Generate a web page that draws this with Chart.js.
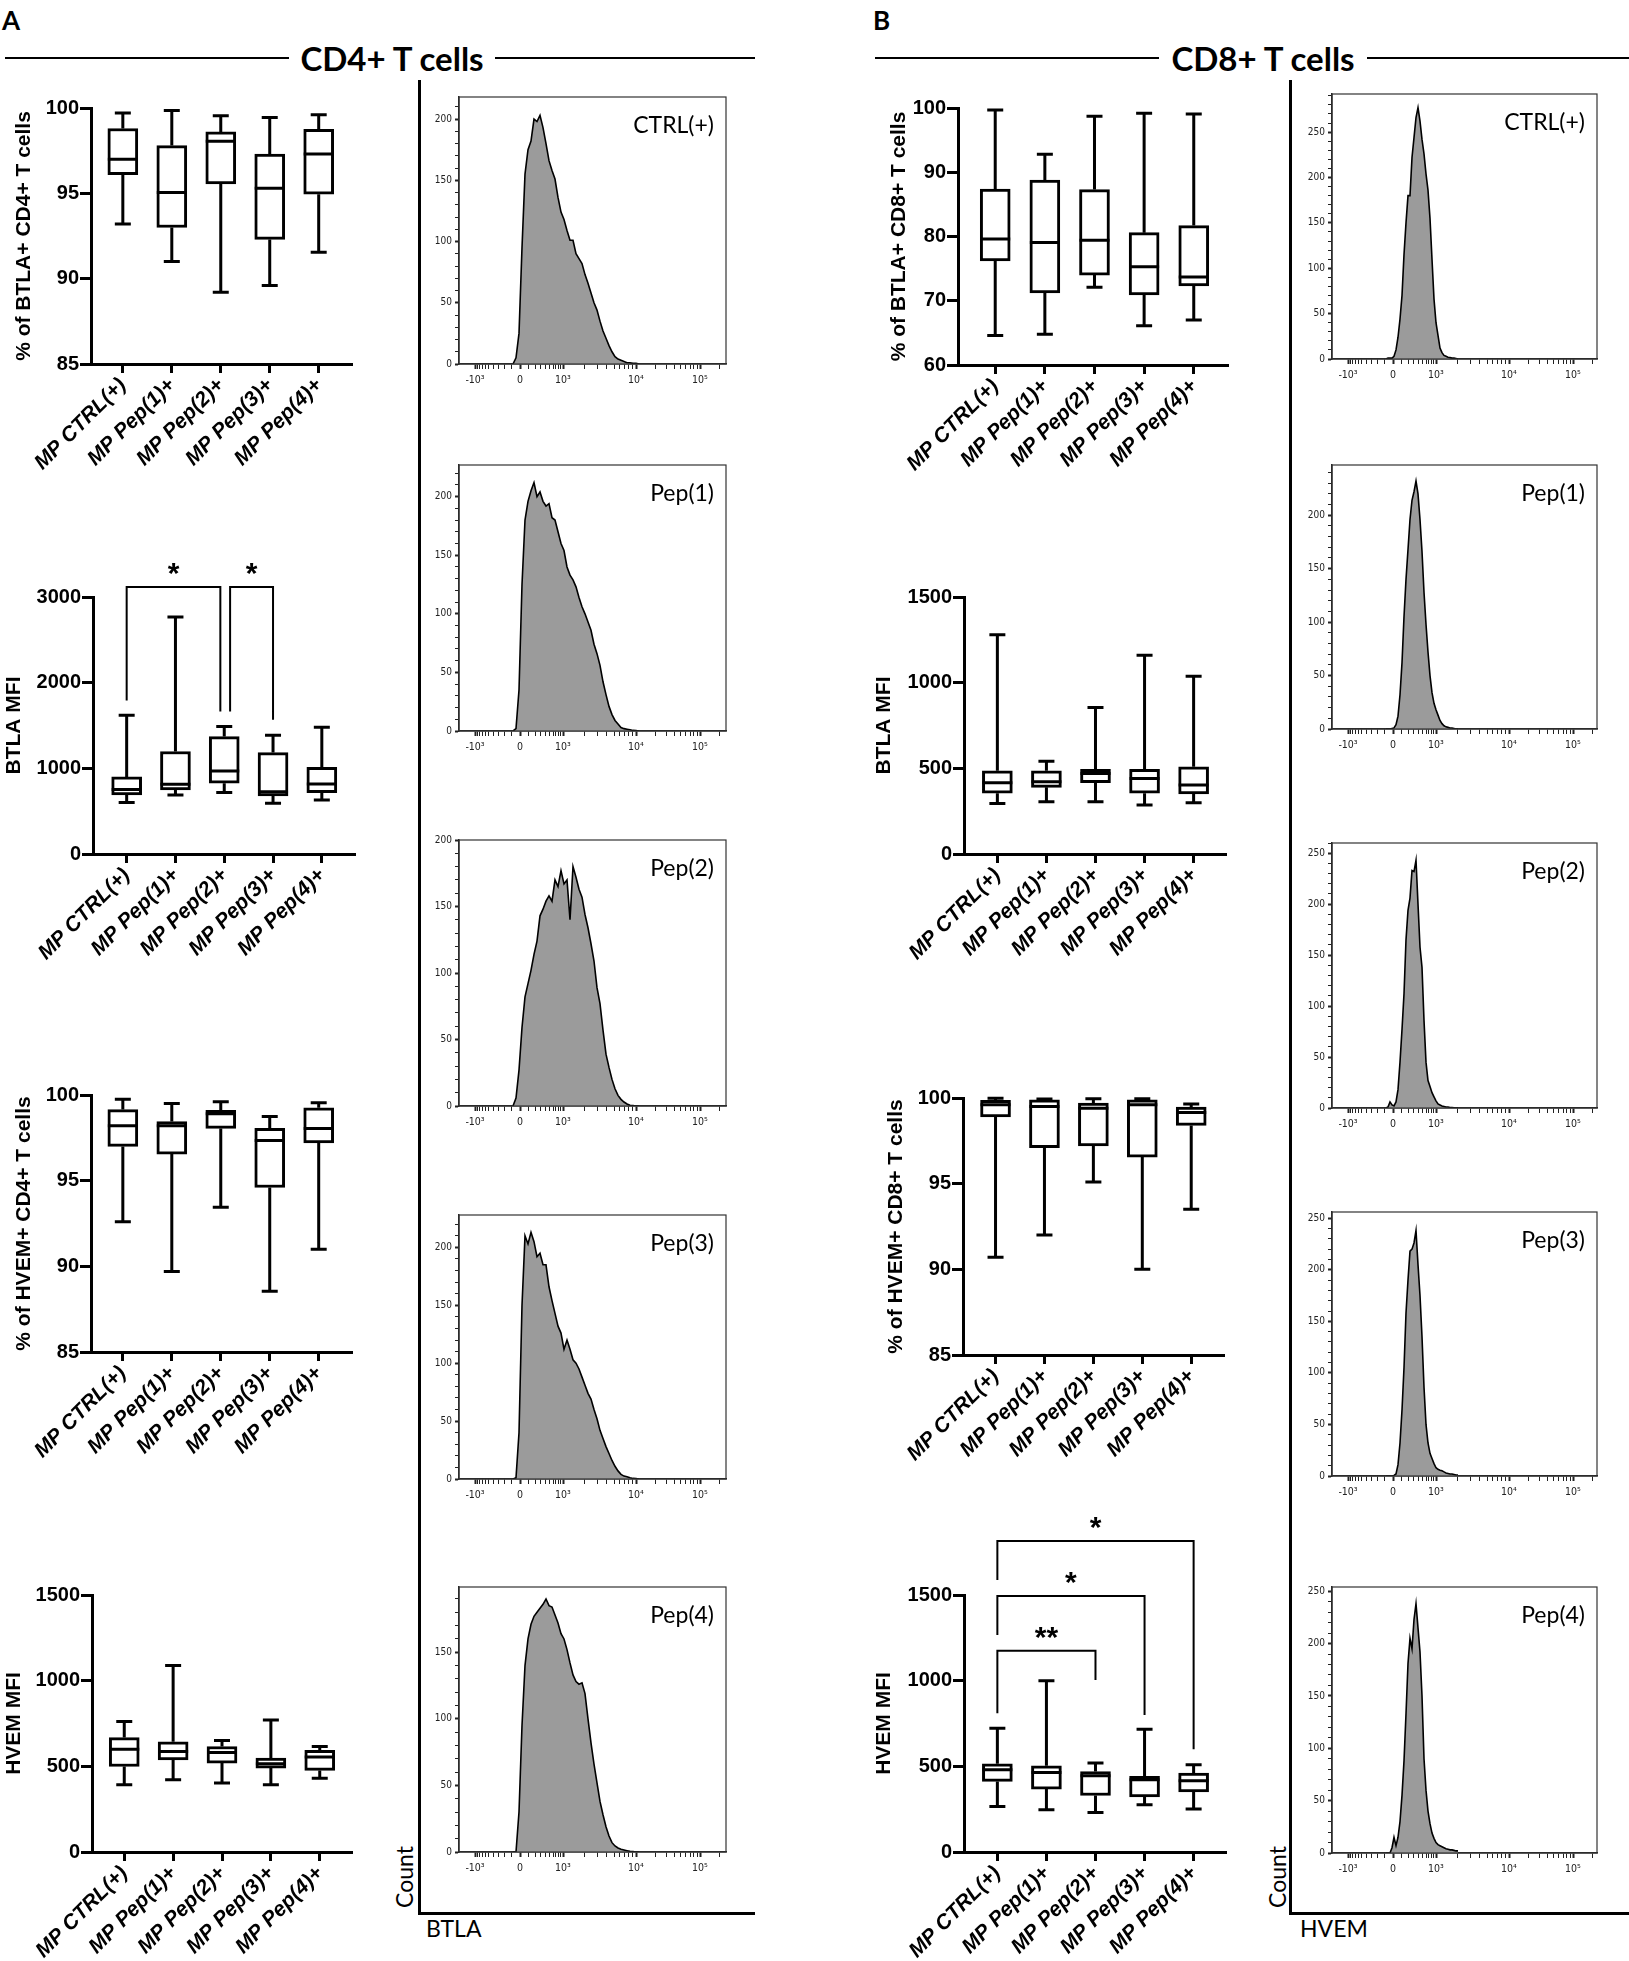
<!DOCTYPE html>
<html>
<head>
<meta charset="utf-8">
<title>BTLA and HVEM on CD4+ and CD8+ T cells</title>
<script src="https://cdn.jsdelivr.net/npm/chart.js@4.4.1/dist/chart.umd.min.js"></script>
<style>
  html, body { margin: 0; padding: 0; background: #fff; }
  #page { position: relative; width: 1629px; height: 1961px; overflow: hidden; background: #fff; color: #000; font-family: Lato, "Open Sans", sans-serif; }
  #page canvas { position: absolute; }
  .txt { position: absolute; white-space: nowrap; line-height: 1; }
  .rule { position: absolute; background: #000; }
</style>
</head>
<body>
<div id="page"></div>
<script>
// ---- data ----
const groups = ["MP CTRL(+)", "MP Pep(1)+", "MP Pep(2)+", "MP Pep(3)+", "MP Pep(4)+"];

// box plots, one row per group: [min, q1, median, q3, max]
const cd4BtlaPct = [[93.2, 96.1, 97.0, 98.8, 99.7], [91.0, 93.0, 95.05, 97.8, 99.85], [89.2, 95.55, 98.05, 98.6, 99.55], [89.6, 92.3, 95.3, 97.3, 99.45], [91.55, 94.95, 97.3, 98.75, 99.6]];
const cd4BtlaMfi = [[600, 690, 754, 900, 1620], [690, 748, 814, 1196, 2766], [717, 826, 970, 1371, 1488], [592, 678, 728, 1184, 1387], [631, 717, 818, 1013, 1480]];
const cd4HvemPct = [[92.6, 97.0, 98.2, 99.15, 99.75], [89.7, 96.55, 98.2, 98.45, 99.5], [93.45, 98.05, 98.9, 99.1, 99.6], [88.55, 94.6, 97.35, 98.05, 98.75], [91.0, 97.2, 98.05, 99.25, 99.55]];
const cd4HvemMfi = [[392, 499, 600, 668, 762], [422, 538, 587, 643, 1088], [402, 519, 581, 616, 651], [392, 490, 515, 548, 771], [431, 476, 554, 593, 616]];
const cd8BtlaPct = [[64.6, 76.2, 79.6, 87.4, 99.7], [64.8, 71.2, 79.05, 88.8, 92.8], [72.1, 74.0, 79.4, 87.3, 98.7], [66.1, 70.9, 75.3, 80.6, 99.2], [67.0, 72.3, 73.7, 81.7, 99.05]];
const cd8BtlaMfi = [[295, 355, 416, 486, 1280], [305, 389, 422, 486, 542], [305, 416, 470, 494, 855], [286, 355, 441, 494, 1160], [299, 351, 402, 509, 1038]];
const cd8HvemPct = [[90.7, 98.9, 99.6, 99.86, 99.98], [92.0, 97.1, 99.5, 99.9, 99.94], [95.1, 97.2, 99.4, 99.7, 99.96], [90.0, 96.55, 99.6, 99.9, 99.96], [93.5, 98.4, 99.15, 99.47, 99.65]];
const cd8HvemMfi = [[266, 412, 480, 515, 723], [247, 367, 464, 503, 999], [231, 330, 445, 470, 519], [276, 321, 422, 441, 717], [251, 350, 416, 460, 509]];

// significance brackets: [from x, to x, bar value, left leg end, right leg end, label]
const cd4BtlaMfiSig = [[1, 2.92, 3117, 1792, 1664, "*"], [3.12, 4, 3117, 1664, 1566, "*"]];
const cd8HvemMfiSig = [[1, 3, 1175, 810, 1004, "**"], [1, 4, 1494, 1267, 800, "*"], [1, 5, 1815, 1587, 600, "*"]];

// histograms: display channel (biexponential axis) and event counts
const cd4Channels = [54, 57, 60, 63, 66, 69, 72, 75, 78, 81, 84, 87, 90, 93, 96, 99, 102, 105, 108, 111, 114, 117, 120, 123, 126, 129, 132, 135, 138, 141, 144, 147, 150, 153, 156, 159, 162, 165, 168, 171, 174, 177, 180];
const cd4CtrlCounts = [0, 5, 25, 95, 155, 175, 182, 200, 198, 203, 193, 180, 166, 158, 151, 136, 124, 118, 109, 101, 101, 90, 86, 82, 73, 66, 58, 50, 44, 35, 27, 21, 15, 10, 6, 4, 3, 2, 1, 1, 0.5, 0.5, 0];
const cd4Pep1Counts = [0, 2, 35, 125, 180, 196, 205, 212, 200, 204, 196, 192, 194, 182, 180, 170, 160, 154, 140, 133, 129, 123, 114, 106, 100, 93, 86, 74, 66, 56, 42, 31, 21, 14, 9, 6, 3, 2, 1.5, 1, 0.5, 0.3, 0];
const cd4Pep2Counts = [0, 6, 27, 59, 82, 92, 102, 114, 124, 143, 148, 154, 158, 154, 170, 165, 177, 167, 170, 140, 180, 172, 163, 157, 144, 134, 122, 109, 89, 77, 57, 39, 29, 20, 13, 8, 5, 3, 1.5, 0.5, 0.3, 0, 0];
const cd4Pep3Counts = [0, 1, 40, 150, 210, 203, 213, 205, 192, 195, 185, 185, 166, 154, 143, 132, 126, 112, 120, 112, 103, 100, 95, 88, 81, 74, 69, 60, 52, 42, 35, 28, 22, 16, 11, 7, 4, 2.5, 2, 1, 0.5, 0.3, 0];
const cd4Pep4Counts = [0, 0, 30, 95, 140, 160, 171, 177, 180, 183, 186, 190, 185, 184, 178, 172, 164, 160, 152, 142, 133, 128, 126, 127, 119, 100, 82, 66, 52, 38, 28, 19, 12, 7, 4.5, 3, 2, 1.5, 1, 0.5, 0.3, 0, 0];

const cd8Channels = [54, 56, 58, 60, 62, 64, 66, 68, 70, 72, 74, 76, 78, 80, 82, 84, 86, 88, 90, 92, 94, 96, 98, 100, 102, 104, 106, 108, 110, 112, 114, 116, 118, 120, 122, 124, 126];
const cd8CtrlCounts = [0, 1, 1, 1, 3, 10, 24, 44, 70, 115, 150, 180, 180, 222, 244, 266, 277, 262, 242, 226, 204, 186, 155, 110, 66, 40, 26, 12, 7, 4, 3, 2, 1.5, 1, 1, 0.5, 0];
const cd8Pep1Counts = [0, 0, 0, 0.5, 1, 4, 12, 32, 62, 105, 140, 168, 196, 214, 222, 232, 220, 196, 166, 128, 98, 72, 50, 34, 24, 18, 13, 8, 5, 3, 2, 1.5, 1, 1, 0.5, 0, 0];
const cd8Pep2Counts = [0, 1, 6, 3, 2, 6, 18, 45, 77, 112, 165, 194, 206, 233, 232, 243, 200, 158, 138, 86, 45, 27, 21, 15, 11, 7, 4, 3, 2, 1.5, 1, 1, 0.5, 0.5, 0.3, 0, 0];
const cd8Pep3Counts = [0, 0, 0, 0, 0.5, 2, 11, 32, 64, 105, 158, 190, 218, 220, 226, 238, 205, 175, 135, 86, 50, 32, 22, 17, 12, 8, 6.5, 5.5, 5, 4, 3, 2.5, 2, 2, 1.5, 1, 1];
const cd8Pep4Counts = [0, 0, 0, 5, 15, 7, 15, 30, 55, 88, 133, 181, 205, 195, 223, 238, 215, 192, 150, 90, 60, 40, 28, 19, 14, 10, 8, 7, 6, 5, 4, 3.5, 3, 3, 2.5, 2, 2];

const histNames = ["CTRL(+)", "Pep(1)", "Pep(2)", "Pep(3)", "Pep(4)"];
const histTickValues = [-1000, 0, 1000, 10000, 100000];
const histTickLabels = ["-10\u00B3", "0", "10\u00B3", "10\u2074", "10\u2075"];
const histMinorValues = [-900, -800, -700, -600, -500, -400, -300, -200, -100, 100, 200, 300, 400, 500, 600, 700, 800, 900,
  2000, 3000, 4000, 5000, 6000, 7000, 8000, 9000, 20000, 30000, 40000, 50000, 60000, 70000, 80000, 90000, 200000];

// ---- page helpers ----
const ARIAL = '"Liberation Sans", Arial, sans-serif';
const NARROW = '"Liberation Sans Narrow", "DejaVu Sans Condensed", "Arial Narrow", "Liberation Sans", sans-serif';
const page = document.getElementById('page');
Chart.defaults.font.family = ARIAL;

function canvasAt(x, y, w, h) {
  const c = document.createElement('canvas');
  c.width = w; c.height = h;
  c.style.left = x + 'px'; c.style.top = y + 'px';
  c.style.width = w + 'px'; c.style.height = h + 'px';
  page.appendChild(c);
  return c;
}
function rule(x, y, w, h) {
  const d = document.createElement('div');
  d.className = 'rule';
  Object.assign(d.style, { left: x + 'px', top: y + 'px', width: w + 'px', height: h + 'px' });
  page.appendChild(d);
}
function label(str, x, y, css, transform) {
  const d = document.createElement('div');
  d.className = 'txt';
  d.textContent = str;
  Object.assign(d.style, css, { left: x + 'px', top: y + 'px', transform: transform || 'none' });
  page.appendChild(d);
}

// whiskers, caps and median lines on top of the q1..q3 bars
const whiskerPlugin = rows => ({
  id: 'whiskers',
  afterDatasetsDraw(chart) {
    const { ctx, scales: { x, y } } = chart;
    ctx.save();
    ctx.strokeStyle = '#000';
    ctx.lineWidth = 3;
    rows.forEach((r, i) => {
      const cx = x.getPixelForValue(i + 1);
      const [mn, q1, md, q3, mx] = r.map(v => y.getPixelForValue(v));
      ctx.beginPath();
      ctx.moveTo(cx, q3); ctx.lineTo(cx, mx);
      ctx.moveTo(cx, q1); ctx.lineTo(cx, mn);
      ctx.moveTo(cx - 8, mx); ctx.lineTo(cx + 8, mx);
      ctx.moveTo(cx - 8, mn); ctx.lineTo(cx + 8, mn);
      ctx.moveTo(cx - 15, md); ctx.lineTo(cx + 15, md);
      ctx.stroke();
    });
    ctx.restore();
  }
});

const sigPlugin = sig => ({
  id: 'sig',
  afterDraw(chart) {
    const { ctx, scales: { x, y } } = chart;
    ctx.save();
    ctx.strokeStyle = '#000';
    ctx.fillStyle = '#000';
    ctx.lineWidth = 2;
    ctx.font = 'bold 30px ' + ARIAL;
    ctx.textAlign = 'center';
    ctx.textBaseline = 'alphabetic';
    sig.forEach(([a, b, bar, la, lb, txt]) => {
      const xa = x.getPixelForValue(a), xb = x.getPixelForValue(b), yb = y.getPixelForValue(bar);
      ctx.beginPath();
      ctx.moveTo(xa, y.getPixelForValue(la));
      ctx.lineTo(xa, yb);
      ctx.lineTo(xb, yb);
      ctx.lineTo(xb, y.getPixelForValue(lb));
      ctx.stroke();
      ctx.fillText(txt, (xa + xb) / 2, yb - 4);
    });
    ctx.restore();
  }
});

function boxChart(rows, lay, sig) {
  const W = 380, T = lay.top - 100, B = Math.min(lay.bottom + 135, 1961), H = B - T;
  const cv = canvasAt(lay.cx, T, W, H);
  return new Chart(cv, {
    type: 'bar',
    data: {
      datasets: [{
        data: rows.map((r, i) => ({ x: i + 1, y: [r[1], r[3]] })),
        backgroundColor: '#fff', borderColor: '#000', borderWidth: 3,
        borderSkipped: false, barThickness: 30
      }]
    },
    options: {
      responsive: false, animation: false, events: [],
      layout: { padding: { left: 0, top: lay.top - T, right: lay.cx + W - lay.ex, bottom: 0 } },
      plugins: { legend: { display: false }, tooltip: { enabled: false } },
      scales: {
        x: {
          type: 'linear', min: lay.xmin, max: lay.xmax, offset: false,
          afterBuildTicks: s => { s.ticks = groups.map((g, i) => ({ value: i + 1 })); },
          afterFit: s => { s.height = B - lay.bottom; },
          ticks: {
            callback: v => groups[v - 1], autoSkip: false, minRotation: 45, maxRotation: 45,
            padding: 0, color: '#000', font: { family: ARIAL, size: 21, weight: 'bold', style: 'italic' }
          },
          grid: { offset: false, drawOnChartArea: false, drawTicks: true, tickLength: 9, tickWidth: 3, tickColor: '#000' },
          border: { display: true, color: '#000', width: 3 }
        },
        y: {
          min: lay.ymin, max: lay.ymax,
          afterFit: s => { s.width = lay.ax - lay.cx; },
          ticks: { stepSize: lay.step, padding: 1, color: '#000', callback: v => String(v), font: { family: ARIAL, size: 20, weight: 'bold' } },
          title: { display: true, text: lay.title, color: '#000', font: { family: ARIAL, size: 21, weight: 'bold' }, padding: { top: lay.tp, bottom: 0 } },
          grid: { drawOnChartArea: false, drawTicks: true, tickLength: 11, tickWidth: 3, tickColor: '#000' },
          border: { display: true, color: '#000', width: 3 }
        }
      }
    },
    plugins: [whiskerPlugin(rows), sigPlugin(sig || [])]
  });
}

// biexponential-like position of a fluorescence value on the histogram x axis (axis decoration only)
function histChannel(v) {
  if (Math.abs(v) <= 1000) {
    const s = Math.asinh(Math.abs(v) / 250) / Math.asinh(4);
    return v >= 0 ? 61 + 43 * s : 61 - 45 * s;
  }
  if (v <= 10000) return 104 + 73 * Math.log10(v / 1000);
  return 177 + 64 * Math.log10(v / 10000);
}
const histXTicks = histTickValues.map((v, i) => ({ value: histChannel(v), big: true, text: histTickLabels[i] }))
  .concat(histMinorValues.map(v => ({ value: histChannel(v), big: false, text: '' })))
  .sort((a, b) => a.value - b.value);

const framePlugin = {
  id: 'frame',
  afterDraw(chart) {
    const { ctx, chartArea: a } = chart;
    ctx.save();
    ctx.strokeStyle = '#333';
    ctx.lineWidth = 1.2;
    ctx.strokeRect(a.left, a.top, a.right - a.left, a.bottom - a.top);
    ctx.restore();
  }
};

function histChart(channels, counts, box, ymax, name) {
  const pl = 46, pt = 12, pr = 12, pb = 40;
  const cv = canvasAt(box.x - pl, box.top - pt, box.w + pl + pr, box.bottom - box.top + pt + pb);
  new Chart(cv, {
    type: 'line',
    data: {
      datasets: [{
        data: channels.map((c, i) => ({ x: c, y: counts[i] })),
        fill: 'origin', backgroundColor: '#9b9b9b', borderColor: '#000', borderWidth: 1.6,
        pointRadius: 0, tension: 0
      }]
    },
    options: {
      responsive: false, animation: false, events: [],
      layout: { padding: { left: 0, top: pt, right: pr, bottom: 0 } },
      plugins: { legend: { display: false }, tooltip: { enabled: false } },
      scales: {
        x: {
          type: 'linear', min: 0, max: box.w,
          afterBuildTicks: s => { s.ticks = histXTicks.map(t => ({ value: t.value, big: t.big, text: t.text })); },
          afterFit: s => { s.height = pb; },
          ticks: {
            autoSkip: false, minRotation: 0, maxRotation: 0, padding: 5, color: '#222',
            callback: (v, i, ts) => ts[i].text, font: { family: NARROW, size: 10.5 }
          },
          grid: { drawOnChartArea: false, tickLength: 5, tickWidth: c => (c.tick && c.tick.big ? 2 : 1), tickColor: '#222' },
          border: { color: '#222', width: 1.5 }
        },
        y: {
          min: 0, max: ymax,
          afterBuildTicks: s => {
            const t = [];
            for (let v = 0; v <= ymax; v += 10) t.push({ value: v, big: v % 50 === 0 });
            s.ticks = t;
          },
          afterFit: s => { s.width = pl; },
          ticks: { autoSkip: false, padding: 3, color: '#222', callback: v => (v % 50 === 0 ? String(v) : ''), font: { family: NARROW, size: 10 } },
          grid: { drawOnChartArea: false, tickLength: 4, tickWidth: c => (c.tick && c.tick.big ? 2 : 1), tickColor: '#222' },
          border: { color: '#222', width: 1.5 }
        }
      }
    },
    plugins: [framePlugin]
  });
  label(name, box.x + box.w - 12, box.top + 13, { font: '23px Lato, "Open Sans", sans-serif' }, 'translateX(-100%)');
}

// ---- headers and frame lines ----
const headFont = { font: 'bold 26px Lato, "Open Sans", sans-serif' };
const titleFont = { font: 'bold 33px Lato, "Open Sans", sans-serif' };
label('A', 2, 4, headFont);
label('B', 873, 4, headFont);
rule(5, 57, 284, 2); rule(495, 57, 260, 2);
label('CD4+ T cells', 392, 58, titleFont, 'translate(-50%, -50%)');
rule(875, 57, 284, 2); rule(1367, 57, 262, 2);
label('CD8+ T cells', 1263, 58, titleFont, 'translate(-50%, -50%)');

rule(418, 80, 3, 1835); rule(418, 1912, 337, 3);
rule(1289, 80, 3, 1835); rule(1289, 1912, 340, 3);
const axFont = { font: '23px Lato, "Open Sans", sans-serif' };
label('Count', 404, 1877, axFont, 'translate(-50%, -50%) rotate(-90deg)');
label('BTLA', 426, 1928, axFont, 'translateY(-50%)');
label('Count', 1277, 1877, axFont, 'translate(-50%, -50%) rotate(-90deg)');
label('HVEM', 1300, 1928, axFont, 'translateY(-50%)');

// ---- box plots ----
boxChart(cd4BtlaPct, { cx: 0, ax: 91, ex: 352, top: 108, bottom: 364, xmin: 0.35, xmax: 5.68, ymin: 85, ymax: 100, step: 5, title: '% of BTLA+ CD4+ T cells', tp: 12 });
boxChart(cd4BtlaMfi, { cx: 0, ax: 93, ex: 355, top: 597, bottom: 854, xmin: 0.31, xmax: 5.68, ymin: 0, ymax: 3000, step: 1000, title: 'BTLA MFI', tp: 2 }, cd4BtlaMfiSig);
boxChart(cd4HvemPct, { cx: 0, ax: 91, ex: 352, top: 1095, bottom: 1352, xmin: 0.35, xmax: 5.68, ymin: 85, ymax: 100, step: 5, title: '% of HVEM+ CD4+ T cells', tp: 12 });
boxChart(cd4HvemMfi, { cx: 0, ax: 92, ex: 352, top: 1595, bottom: 1852, xmin: 0.34, xmax: 5.66, ymin: 0, ymax: 1500, step: 500, title: 'HVEM MFI', tp: 2 });
boxChart(cd8BtlaPct, { cx: 870, ax: 958, ex: 1228, top: 108, bottom: 365, xmin: 0.25, xmax: 5.69, ymin: 60, ymax: 100, step: 10, title: '% of BTLA+ CD8+ T cells', tp: 17 });
boxChart(cd8BtlaMfi, { cx: 870, ax: 964, ex: 1226, top: 597, bottom: 854, xmin: 0.32, xmax: 5.66, ymin: 0, ymax: 1500, step: 500, title: 'BTLA MFI', tp: 2 });
boxChart(cd8HvemPct, { cx: 870, ax: 963, ex: 1224, top: 1098, bottom: 1355, xmin: 0.335, xmax: 5.67, ymin: 85, ymax: 100, step: 5, title: '% of HVEM+ CD8+ T cells', tp: 14 });
boxChart(cd8HvemMfi, { cx: 870, ax: 964, ex: 1226, top: 1595, bottom: 1852, xmin: 0.32, xmax: 5.66, ymin: 0, ymax: 1500, step: 500, title: 'HVEM MFI', tp: 2 }, cd8HvemMfiSig);

// ---- histograms ----
const cd4Counts = [cd4CtrlCounts, cd4Pep1Counts, cd4Pep2Counts, cd4Pep3Counts, cd4Pep4Counts];
const cd4Tops = [97, 465, 840, 1215, 1587], cd4Bottoms = [364, 731, 1106, 1479, 1852], cd4Max = [218, 227, 200, 228, 199];
cd4Counts.forEach((c, i) => histChart(cd4Channels, c, { x: 459, w: 267, top: cd4Tops[i], bottom: cd4Bottoms[i] }, cd4Max[i], histNames[i]));

const cd8Counts = [cd8CtrlCounts, cd8Pep1Counts, cd8Pep2Counts, cd8Pep3Counts, cd8Pep4Counts];
const cd8Tops = [94, 465, 843, 1212, 1587], cd8Bottoms = [359, 729, 1108, 1476, 1853], cd8Max = [292, 247, 260, 256, 254];
cd8Counts.forEach((c, i) => histChart(cd8Channels, c, { x: 1332, w: 265, top: cd8Tops[i], bottom: cd8Bottoms[i] }, cd8Max[i], histNames[i]));
</script>
</body>
</html>
